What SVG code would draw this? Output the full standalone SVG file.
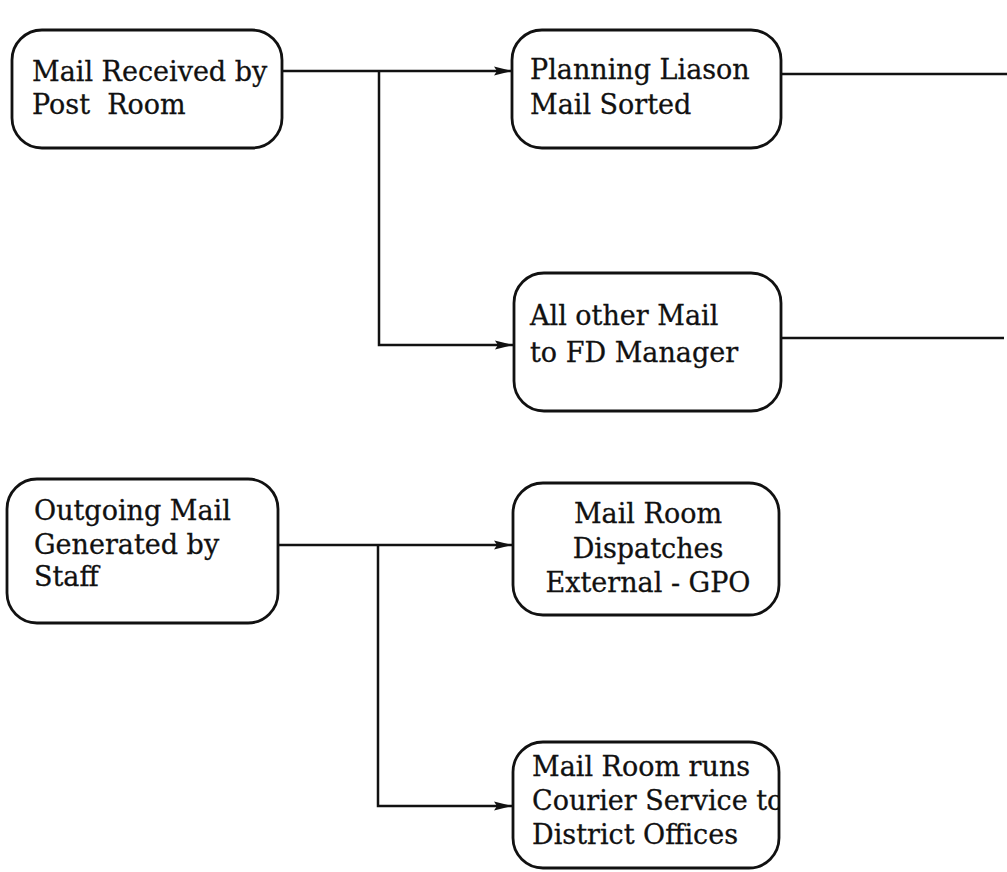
<svg xmlns="http://www.w3.org/2000/svg" width="1007" height="872" viewBox="0 0 1007 872">
<style>
.box{fill:#fff;stroke:#111;stroke-width:2.8}
.t{font-family:"DejaVu Serif","Liberation Serif",serif;font-size:27px;fill:#111;stroke:#111;stroke-width:0.3}
.c{fill:none;stroke:#111;stroke-width:2.5}
</style>
<defs>
<marker id="arr" viewBox="0 0 18 12" refX="18" refY="6" markerWidth="18" markerHeight="12" markerUnits="userSpaceOnUse" orient="auto">
<path d="M0,1.5 L18,6 L0,10.5 L3,6 Z" fill="#111"/>
</marker>
<clipPath id="clip6"><rect x="513" y="742" width="266" height="126" rx="30"/></clipPath>
</defs>
<rect width="1007" height="872" fill="#fff"/>
<g id="connectors">
<path class="c" d="M282,71 L512,71" marker-end="url(#arr)"/>
<path class="c" d="M379,71 L379,345 L513,345" marker-end="url(#arr)"/>
<path class="c" d="M781,74 L1007,74"/>
<path class="c" d="M781,338 L1004,338"/>
<path class="c" d="M278,545 L512,545" marker-end="url(#arr)"/>
<path class="c" d="M378,545 L378,806 L512,806" marker-end="url(#arr)"/>
</g>
<g id="n1">
<rect class="box" x="12" y="30" width="270" height="118" rx="30"/>
<text class="t" x="32" y="81">Mail Received by</text>
<text class="t" x="32" y="114" xml:space="preserve">Post  Room</text>
</g>
<g id="n2">
<rect class="box" x="512" y="30" width="269" height="118" rx="30"/>
<text class="t" x="530" y="79">Planning Liason</text>
<text class="t" x="530" y="114">Mail Sorted</text>
</g>
<g id="n3">
<rect class="box" x="514" y="273" width="267" height="138" rx="30"/>
<text class="t" x="530" y="325">All other Mail</text>
<text class="t" x="530" y="362">to FD Manager</text>
</g>
<g id="n4">
<rect class="box" x="7" y="479" width="271" height="144" rx="30"/>
<text class="t" x="34" y="520">Outgoing Mail</text>
<text class="t" x="34" y="554">Generated by</text>
<text class="t" x="34" y="586">Staff</text>
</g>
<g id="n5">
<rect class="box" x="513" y="483" width="266" height="132" rx="30"/>
<text class="t" x="648" y="523" text-anchor="middle">Mail Room</text>
<text class="t" x="648" y="558" text-anchor="middle">Dispatches</text>
<text class="t" x="648" y="592" text-anchor="middle">External - GPO</text>
</g>
<g id="n6">
<rect class="box" x="513" y="742" width="266" height="126" rx="30"/>
<g clip-path="url(#clip6)">
<text class="t" x="532" y="776">Mail Room runs</text>
<text class="t" x="532" y="810">Courier Service to</text>
<text class="t" x="532" y="844">District Offices</text>
</g>
</g>
</svg>
